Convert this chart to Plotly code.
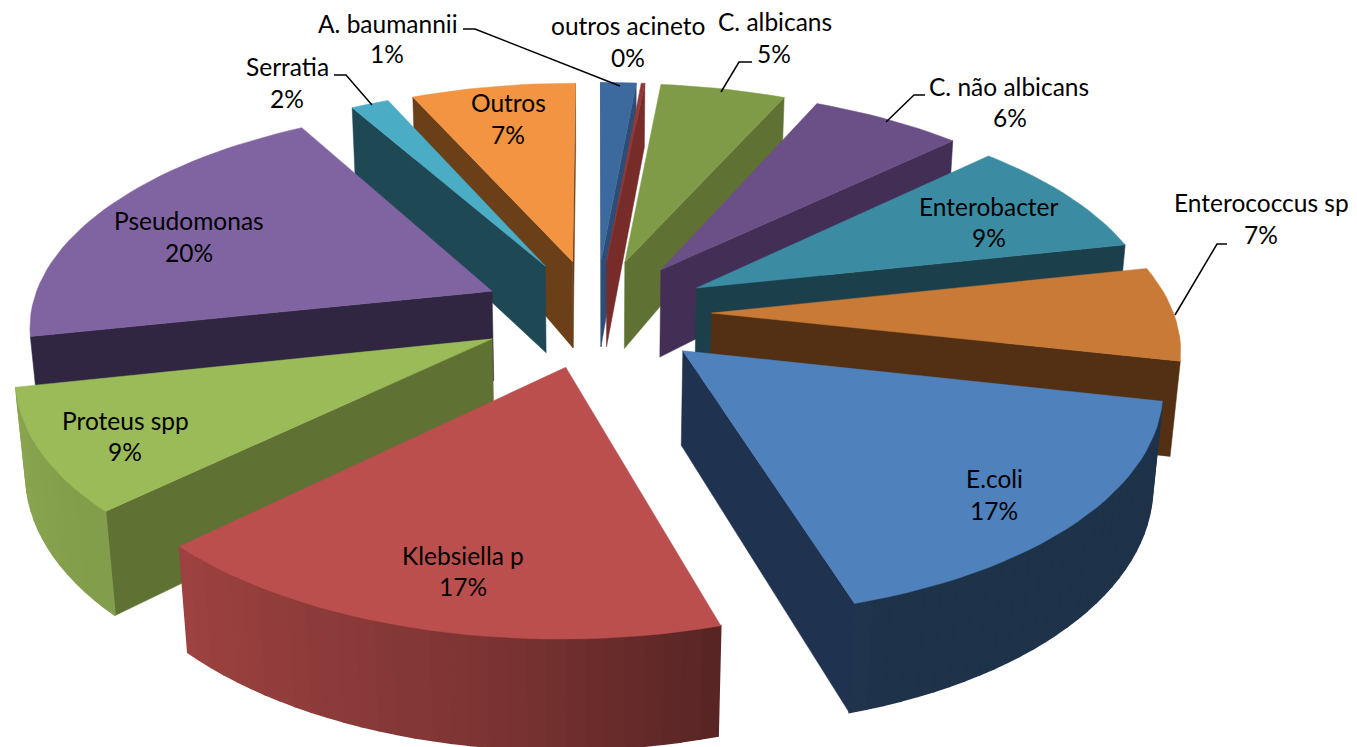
import math
import plotly.graph_objects as go

# ---- data -------------------------------------------------------------
categories = ["A. baumannii", "outros acineto", "C. albicans", "C. não albicans",
              "Enterobacter", "Enterococcus sp", "E.coli", "Klebsiella p",
              "Proteus spp", "Pseudomonas", "Serratia", "Outros"]
values = [1.45, 0.15, 5.1, 6.2, 8.7, 6.85, 16.9, 17.45, 8.85, 20.1, 1.55, 6.7]

# ---- styles -----------------------------------------------------------
top_colors = ["#3c6a9e", "#903a38", "#7f9b48", "#6a5087", "#3b8ca3", "#c87a36",
              "#4f81bd", "#bb4f4d", "#9bbb59", "#8064a2", "#4bacc6", "#f29441"]
wall_colors = ["#2c4d75", "#772c2a", "#5f7233", "#432f55", "#1b3f4b", "#533013",
               "#1f3350", "#772c2a", "#5f7233", "#312642", "#1f4855", "#6b3f18"]
label_pos = {"A. baumannii": (388, 23, 387, 53), "outros acineto": (628, 25, 628, 57),
             "C. albicans": (775, 21, 774, 53), "C. não albicans": (1009, 86, 1010, 117),
             "Enterobacter": (989, 206, 989, 237), "Enterococcus sp": (1261, 202, 1261, 234),
             "E.coli": (994, 478, 994, 510), "Klebsiella p": (463, 555, 463, 586),
             "Proteus spp": (125, 420, 125, 451), "Pseudomonas": (189, 220, 189, 252),
             "Serratia": (287, 66, 287, 98), "Outros": (508, 102, 508, 134)}
leaders = [[(463, 29), (475, 29), (620, 86)], [(752, 62), (739, 62), (721, 92)],
           [(925, 95), (914, 95), (886, 122)], [(1227, 244), (1217, 244), (1175, 315)],
           [(334, 75), (346, 75), (372, 105)]]
shade_deg = [90, 162, 163, 190, 225, 280, 360]
shade_val = [0.39, 0.39, 0.47, 0.68, 0.84, 0.92, 0.92]

# ---- projection -------------------------------------------------------
CX, CY, F, DIST = 596.0, 313.0, 462.0, 6.3
TILT = math.radians(28)
EXPLODE, HEIGHT = 0.25, 0.23
BODY = 8  # page margin around the plot
ST, CT = math.sin(TILT), math.cos(TILT)


def project(x, y, z):
    v = y * ST + z * CT
    w = y * CT - z * ST
    s = DIST / (DIST + w)
    return CX + F * x * s, CY - F * v * s


def base(x, y):
    k = 1 - 0.18 * y if y > 0 else 1 - 0.05 * y
    return project(x, y, -HEIGHT * k)


def area(p):
    return sum(p[i][0] * p[(i + 1) % len(p)][1] - p[(i + 1) % len(p)][0] * p[i][1]
               for i in range(len(p))) / 2


def shade(hex_color, f):
    r, g, b = (int(hex_color[i:i + 2], 16) for i in (1, 3, 5))
    return f"rgb({int(r * f)},{int(g * f)},{int(b * f)})"


def side_factor(theta):
    d = math.degrees(theta)
    for k in range(len(shade_deg) - 1):
        if d <= shade_deg[k + 1]:
            if d < shade_deg[k]:
                return shade_val[k]
            t = (d - shade_deg[k]) / (shade_deg[k + 1] - shade_deg[k])
            return shade_val[k] + t * (shade_val[k + 1] - shade_val[k])
    return shade_val[-1]


total = sum(values)
fig = go.Figure()


def poly(points, color, width=0.5):
    fig.add_trace(go.Scatter(x=[p[0] for p in points] + [points[0][0]],
                             y=[p[1] for p in points] + [points[0][1]],
                             mode="lines", fill="toself", fillcolor=color,
                             line=dict(color=color, width=width),
                             hoverinfo="skip", showlegend=False))


slices = []
acc = 0.0
for i, v in enumerate(values):
    a0 = acc / total * 2 * math.pi
    acc += v
    a1 = acc / total * 2 * math.pi
    slices.append((i, a0, a1))
slices.sort(key=lambda s: -math.cos((s[1] + s[2]) / 2))

for i, a0, a1 in slices:
    mid = (a0 + a1) / 2
    ox, oy = EXPLODE * math.sin(mid), EXPLODE * math.cos(mid)
    n = max(3, int((a1 - a0) / math.radians(2.0)))
    ths = [a0 + (a1 - a0) * k / n for k in range(n + 1)]
    rt = [project(ox + math.sin(t), oy + math.cos(t), 0) for t in ths]
    rb = [base(ox + math.sin(t), oy + math.cos(t)) for t in ths]
    at, ab = project(ox, oy, 0), base(ox, oy)
    for q in ([rt[0], at, ab, rb[0]], [at, rt[-1], rb[-1], ab]):
        if area(q) > 0:
            poly(q, wall_colors[i])
    for k in range(n):
        q = [rt[k + 1], rt[k], rb[k], rb[k + 1]]
        if area(q) > 0:
            poly(q, shade(top_colors[i], side_factor((ths[k] + ths[k + 1]) / 2)), 1.5)
    poly([at] + rt, top_colors[i])

for line in leaders:
    fig.add_trace(go.Scatter(x=[p[0] for p in line], y=[p[1] for p in line], mode="lines",
                             line=dict(color="black", width=1.5), hoverinfo="skip",
                             showlegend=False))

for name, v in zip(categories, values):
    x1, y1, x2, y2 = label_pos[name]
    pct = f"{round(v / total * 100)}%"
    for tx, ty, t in ((x1, y1, name), (x2, y2, pct)):
        fig.add_annotation(x=tx, y=ty, xref="x", yref="y", text=t, showarrow=False,
                           font=dict(family="Lato", size=24.5, color="black"))

fig.update_layout(width=1357 - BODY, height=747 - BODY, margin=dict(l=0, r=0, t=0, b=0),
                  paper_bgcolor="white", plot_bgcolor="white", showlegend=False,
                  xaxis=dict(range=[BODY, 1357], visible=False, fixedrange=True),
                  yaxis=dict(range=[747, BODY], visible=False, fixedrange=True))
fig.write_html("out.html", config=dict(displayModeBar=False))
